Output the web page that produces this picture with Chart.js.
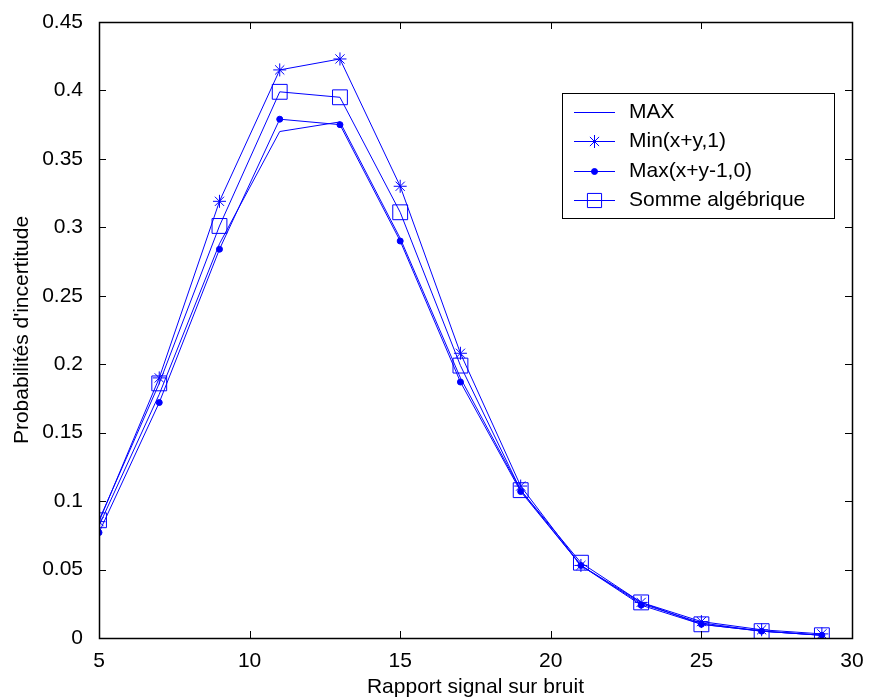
<!DOCTYPE html>
<html>
<head>
<meta charset="utf-8">
<script src="https://cdn.jsdelivr.net/npm/chart.js@4/dist/chart.umd.min.js"></script>
<style>
  html, body { margin: 0; padding: 0; background: #fff; }
  #wrap { width: 869px; height: 700px; }
</style>
</head>
<body>
<div id="wrap"><canvas id="snrChart" width="869" height="700"></canvas></div>
<script>
const snr = [5, 7, 9, 11, 13, 15, 17, 19, 21, 23, 25, 27, 29];
const maxVals = [0.082, 0.178, 0.288, 0.370, 0.377, 0.292, 0.190, 0.108, 0.053, 0.025, 0.011, 0.005, 0.002];
const minSumVals = [0.085, 0.190, 0.319, 0.415, 0.423, 0.330, 0.208, 0.111, 0.053, 0.026, 0.012, 0.006, 0.003];
const maxSumVals = [0.077, 0.172, 0.284, 0.379, 0.375, 0.290, 0.187, 0.107, 0.053, 0.024, 0.010, 0.005, 0.002];
const algSumVals = [0.086, 0.186, 0.301, 0.399, 0.395, 0.311, 0.199, 0.108, 0.055, 0.026, 0.010, 0.005, 0.002];
const seriesNames = ["MAX", "Min(x+y,1)", "Max(x+y-1,0)", "Somme algébrique"];

const BLUE = "rgb(0,0,255)";
const FONT = "Liberation Sans, Arial, sans-serif";
const FSIZE = 21;

function toPoints(vals) {
  return snr.map((x, i) => ({ x: x, y: vals[i] }));
}

const styles = [
  { pointStyle: false, radius: 0 },
  { pointStyle: "star", radius: 6.5 },
  { pointStyle: "circle", radius: 3, fill: BLUE },
  { pointStyle: "rect", radius: 10.5 },
];

const datasets = [maxVals, minSumVals, maxSumVals, algSumVals].map((vals, i) => ({
  label: seriesNames[i],
  data: toPoints(vals),
  borderColor: BLUE,
  borderWidth: 1,
  pointStyle: styles[i].pointStyle,
  pointRadius: styles[i].radius,
  pointBorderColor: BLUE,
  pointBorderWidth: 1,
  pointBackgroundColor: styles[i].fill || "rgba(0,0,0,0)",
  tension: 0,
  fill: false,
}));

// box around the axes, inward ticks on all four sides
const boxAxes = {
  id: "boxAxes",
  afterDatasetsDraw(chart) {
    const { ctx, chartArea: a, scales } = chart;
    const len = 7;
    ctx.save();
    ctx.strokeStyle = "#000";
    ctx.lineWidth = 1;
    ctx.beginPath();
    scales.x.ticks.forEach((t) => {
      const px = Math.round(scales.x.getPixelForValue(t.value)) + 0.5;
      ctx.moveTo(px, a.bottom); ctx.lineTo(px, a.bottom - len);
      ctx.moveTo(px, a.top); ctx.lineTo(px, a.top + len);
    });
    scales.y.ticks.forEach((t) => {
      const py = Math.round(scales.y.getPixelForValue(t.value)) + 0.5;
      ctx.moveTo(a.left, py); ctx.lineTo(a.left + len, py);
      ctx.moveTo(a.right, py); ctx.lineTo(a.right - len, py);
    });
    ctx.stroke();
    ctx.lineWidth = 1.5;
    ctx.strokeRect(Math.round(a.left) + 0.5, Math.round(a.top) + 0.5,
      Math.round(a.right - a.left), Math.round(a.bottom - a.top));
    ctx.restore();
  },
};

// legend box in the upper right of the axes
const boxLegend = {
  id: "boxLegend",
  afterDraw(chart) {
    const { ctx, chartArea: a } = chart;
    const right = a.right - 18, top = a.top + 71;
    const w = 272, h = 125;
    const left = right - w;
    ctx.save();
    ctx.fillStyle = "#fff";
    ctx.fillRect(left, top, w, h);
    ctx.strokeStyle = "#000";
    ctx.lineWidth = 1;
    ctx.strokeRect(Math.round(left) + 0.5, Math.round(top) + 0.5, w, h);
    ctx.font = FSIZE + "px " + FONT;
    ctx.textBaseline = "middle";
    chart.data.datasets.forEach((ds, i) => {
      const y = Math.round(top + 19 + i * 29.3) + 0.5;
      const x0 = left + 12, x1 = left + 53;
      ctx.strokeStyle = BLUE;
      ctx.lineWidth = 1;
      ctx.beginPath();
      ctx.moveTo(x0, y); ctx.lineTo(x1, y);
      ctx.stroke();
      if (ds.pointStyle) {
        ctx.fillStyle = ds.pointBackgroundColor;
        ctx.strokeStyle = BLUE;
        Chart.helpers.drawPoint(ctx, {
          pointStyle: ds.pointStyle,
          radius: ds.pointStyle === "rect" ? 10 : ds.pointRadius,
          borderWidth: 1,
        }, (x0 + x1) / 2, y);
      }
      ctx.fillStyle = "#000";
      ctx.fillText(ds.label, left + 67, y);
    });
    ctx.restore();
  },
};

Chart.defaults.font.family = FONT;
Chart.defaults.font.size = FSIZE;
Chart.defaults.color = "#000";

new Chart(document.getElementById("snrChart").getContext("2d"), {
  type: "line",
  data: { datasets: datasets },
  options: {
    responsive: false,
    animation: false,
    devicePixelRatio: 1,
    layout: { padding: { left: 10, top: 22, right: 17, bottom: 0 } },
    plugins: {
      legend: { display: false },
      tooltip: { enabled: false },
    },
    scales: {
      x: {
        type: "linear",
        min: 5,
        max: 30,
        border: { display: false },
        grid: { display: false },
        ticks: { stepSize: 5, padding: 3, maxRotation: 0 },
        title: { display: true, text: "Rapport signal sur bruit", padding: { top: 0, bottom: 0 } },
        afterFit(scale) { scale.height = 62; },
      },
      y: {
        min: 0,
        max: 0.45,
        border: { display: false },
        grid: { display: false },
        ticks: {
          stepSize: 0.05,
          padding: 8,
          callback: (v) => String(parseFloat(v.toFixed(2))),
        },
        title: { display: true, text: "Probabilités d'incertitude", padding: { top: 0, bottom: 0 } },
        afterFit(scale) { scale.width = 89; },
      },
    },
  },
  plugins: [boxAxes, boxLegend],
});
</script>
</body>
</html>
